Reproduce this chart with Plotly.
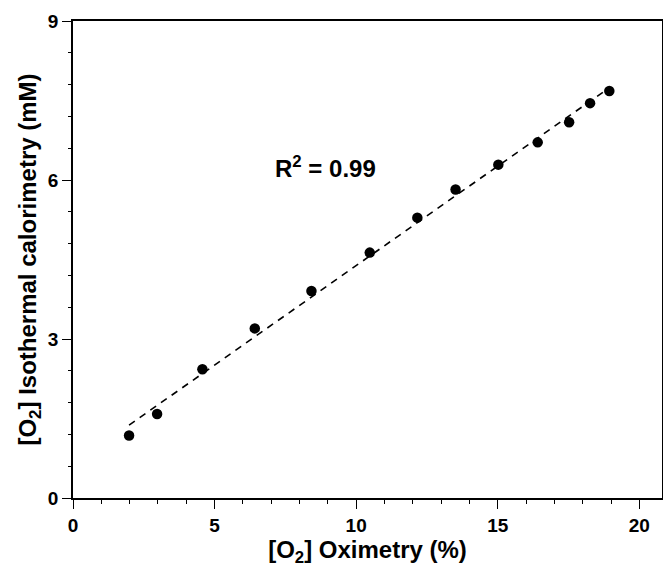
import numpy as np
import plotly.graph_objects as go

# Data
oximetry_pct = [1.98, 2.97, 4.57, 6.42, 8.42, 10.48, 12.16, 13.51, 15.02, 16.41, 17.52, 18.26, 18.94]
calorimetry_mM = [1.18, 1.585, 2.43, 3.20, 3.905, 4.63, 5.29, 5.82, 6.29, 6.71, 7.09, 7.45, 7.68]
x_ticks = [0, 5, 10, 15, 20]
y_ticks = [0, 3, 6, 9]
r2_label = "<b>R<sup>2</sup> = 0.99</b>"

slope, intercept = np.polyfit(oximetry_pct, calorimetry_mM, 1)
fit_x = [min(oximetry_pct), max(oximetry_pct)]
fit_y = [slope * v + intercept for v in fit_x]

FONT = "Liberation Sans, Arial, sans-serif"

fig = go.Figure()
fig.add_trace(go.Scatter(x=fit_x, y=fit_y, mode="lines",
                         line=dict(color="black", width=1.6, dash="7px,6px"),
                         showlegend=False, hoverinfo="skip"))
fig.add_trace(go.Scatter(x=oximetry_pct, y=calorimetry_mM, mode="markers",
                         marker=dict(color="black", size=10.5),
                         showlegend=False))

fig.add_annotation(x=8.91, y=6.24, text=r2_label, showarrow=False,
                   font=dict(family=FONT, size=24, color="black"),
                   xanchor="center", yanchor="middle")

axis_common = dict(
    showgrid=False, zeroline=False, showline=True, linecolor="black", linewidth=1.6,
    mirror=True, ticks="outside", ticklen=9, tickwidth=1.4, tickcolor="black",
    tickfont=dict(family=FONT, size=19, color="black", weight="bold"),
)

fig.update_xaxes(range=[0, 20.8], tickvals=x_ticks, ticktext=[f"<b>{v}</b>" for v in x_ticks],
                 minor=dict(dtick=1, ticks="outside", ticklen=4, tickwidth=1.2, tickcolor="black"),
                 title=dict(text="<b>[O<sub>2</sub>] Oximetry (%)</b>",
                            font=dict(family=FONT, size=24, color="black"), standoff=6),
                 **axis_common)
fig.update_yaxes(range=[0, 9], tickvals=y_ticks, ticktext=[f"<b>{v}</b>" for v in y_ticks],
                 minor=dict(dtick=0.6, tick0=0, ticks="outside", ticklen=3, tickwidth=1.2, tickcolor="black"),
                 title=dict(text="<b>[O<sub>2</sub>] Isothermal calorimetry (mM)</b>",
                            font=dict(family=FONT, size=24, color="black"), standoff=4),
                 **axis_common)

fig.update_layout(width=663, height=574, plot_bgcolor="white", paper_bgcolor="white",
                  margin=dict(l=73, r=1, t=21, b=76, autoexpand=False))

fig.write_html("out.html", config={"displayModeBar": False},
               post_script="document.body.style.margin='0';document.body.style.overflow='hidden';")
